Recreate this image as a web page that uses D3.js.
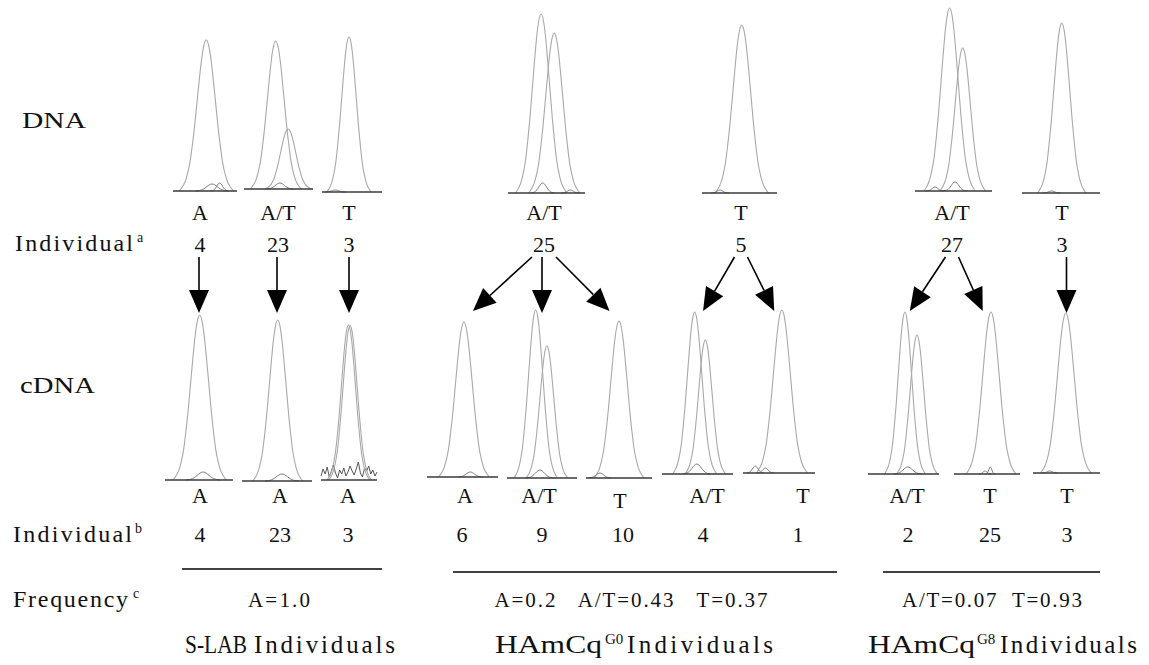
<!DOCTYPE html>
<html lang="en">

<head>
    <meta charset="UTF-8">
    <title>DNA / cDNA genotype traces</title>
    <script src="https://d3js.org/d3.v7.min.js"></script>
    <style>
        body { margin: 0; background: #fff; }
        text { font-family: "Liberation Serif", "Times New Roman", Times, serif; fill: #111; }
        .peak { fill: none; stroke: #a9a9a9; stroke-width: 1.1px; }
        .bump { fill: none; stroke: #7a7a7a; stroke-width: 1px; }
        .noise { fill: none; stroke: #555; stroke-width: 1px; }
        .base { stroke: #3a3a3a; stroke-width: 1.6px; }
        .rule { stroke: #000; stroke-width: 1.4px; }
        .shaft { stroke: #000; stroke-width: 1.6px; }
    </style>
</head>

<body>
    <script>
        // genotype calls and individuals, DNA row (top)
        var dnaGenotypes = ["A", "A/T", "T", "A/T", "T", "A/T", "T"];
        var dnaIndividuals = ["4", "23", "3", "25", "5", "27", "3"];

        // cDNA row (bottom)
        var cdnaGenotypes = ["A", "A", "A", "A", "A/T", "T", "A/T", "T", "A/T", "T", "T"];
        var cdnaIndividuals = ["4", "23", "3", "6", "9", "10", "4", "1", "2", "25", "3"];
        // which DNA trace each cDNA trace comes from
        var cdnaSource = [0, 1, 2, 3, 3, 3, 4, 4, 5, 5, 6];

        var frequencies = ["A=1.0", "A=0.2   A/T=0.43   T=0.37", "A/T=0.07  T=0.93"];

        // peaks per trace: [position (0-100 of window), signal, half width]
        var dnaPeaks = [
            [[52, 1510, 37], [61, 70, 22], [73, 80, 12]],
            [[46, 1480, 32], [64, 600, 29], [52, 60, 17]],
            [[45, 1550, 32], [22, 20, 15]],
            [[43, 1790, 29], [60, 1600, 29], [45, 100, 13], [81, 30, 10]],
            [[53, 1680, 31], [24, 30, 10]],
            [[45, 1830, 29], [62, 1430, 26], [52, 90, 13], [26, 40, 10]],
            [[51, 1700, 27], [38, 20, 10]]
        ];
        var cdnaPeaks = [
            [[51, 1650, 34], [56, 80, 22]],
            [[51, 1610, 31], [57, 70, 21]],
            [[49, 1550, 33], [52, 1545, 33]],
            [[52, 1550, 31], [61, 50, 15]],
            [[41, 1680, 27], [57, 1320, 26], [47, 80, 17]],
            [[50, 1570, 33], [21, 50, 15]],
            [[46, 1620, 27], [61, 1340, 25], [49, 100, 17]],
            [[54, 1630, 31], [17, 70, 10], [31, 50, 10]],
            [[52, 1620, 25], [69, 1390, 25], [56, 70, 17]],
            [[56, 1620, 33], [55, 70, 6], [47, 30, 8]],
            [[49, 1600, 33], [25, 20, 10]]
        ];
        // background noise in S-LAB individual 3 cDNA trace
        var noiseTrace = [40, 110, 60, 130, 30, 90, 150, 70, 20, 100, 60, 120, 40, 80, 140, 90, 50, 110, 180, 70, 30, 120, 90, 140, 60, 100, 40, 80];

        // peak outline: [offset in half widths, relative height]
        var peakProfile = [[0, 1], [0.1, 0.965], [0.2, 0.87], [0.3, 0.73], [0.4, 0.575], [0.5, 0.42],
            [0.6, 0.29], [0.7, 0.18], [0.8, 0.11], [0.9, 0.06], [1, 0.03], [1.15, 0]];

        // ---- layout ----
        // [x0, x1, baseline y, label x]
        var dnaLayout = [[173, 237, 191, 200], [244, 313, 189, 278], [322, 382, 192, 349], [508, 585, 193, 544],
            [702, 777, 193, 741], [915, 992, 191, 952], [1022, 1100, 193, 1062]];
        var cdnaLayout = [[165, 233, 480, 200], [242, 312, 481, 280], [321, 377, 480, 348], [427, 498, 477, 465],
            [507, 577, 478, 539], [586, 652, 478, 620], [662, 733, 474, 707], [743, 815, 473, 803],
            [868, 939, 474, 907], [954, 1020, 474, 990], [1033, 1100, 473, 1067]];
        var cdnaNumberX = [200, 280, 348, 462, 542, 623, 703, 798, 908, 990, 1067];
        // [rule x0, rule x1, rule y, text centre, title x]
        var groupLayout = [[182, 382, 569, 279, 185], [453, 837, 572, 631, 495], [883, 1100, 572, 992, 868]];

        var svg = d3.select("body").append("svg")
            .attr("width", 1149)
            .attr("height", 665);

        var fullProfile = peakProfile.slice(1).map(function (p) { return [-p[0], p[1]]; }).reverse().concat(peakProfile);

        function drawTrace(lay, peaks, noise) {
            var x = d3.scaleLinear().domain([0, 100]).range([lay[0], lay[1]]);
            var y = d3.scaleLinear().domain([0, 2000]).range([lay[2], lay[2] - 200]);
            var g = svg.append("g");

            if (noise) {
                var nx = d3.scaleLinear().domain([0, noise.length - 1]).range([0, 100]);
                g.append("path")
                    .attr("class", "noise")
                    .attr("d", d3.line()
                        .x(function (d, i) { return x(nx(i)); })
                        .y(function (d) { return y(d); })(noise));
            }

            g.selectAll(".pk")
                .data(peaks)
                .enter()
                .append("path")
                .attr("class", function (d) { return d[1] < 300 ? "bump" : "peak"; })
                .attr("d", function (d) {
                    return d3.line()
                        .x(function (p) { return x(d[0] + p[0] * d[2]); })
                        .y(function (p) { return y(p[1] * d[1]); })
                        .curve(d3.curveMonotoneX)(fullProfile);
                });

            g.append("line")
                .attr("class", "base")
                .attr("x1", x(0)).attr("x2", x(100))
                .attr("y1", y(0)).attr("y2", y(0));
        }

        dnaPeaks.forEach(function (p, i) { drawTrace(dnaLayout[i], p, null); });
        cdnaPeaks.forEach(function (p, i) { drawTrace(cdnaLayout[i], p, i === 2 ? noiseTrace : null); });

        // genotype and individual labels
        svg.selectAll(".dnaGt").data(dnaGenotypes).enter().append("text")
            .attr("x", function (d, i) { return dnaLayout[i][3]; })
            .attr("y", 220)
            .attr("text-anchor", "middle")
            .style("font-size", "22px")
            .text(function (d) { return d; });
        svg.selectAll(".dnaInd").data(dnaIndividuals).enter().append("text")
            .attr("x", function (d, i) { return dnaLayout[i][3]; })
            .attr("y", 252)
            .attr("text-anchor", "middle")
            .style("font-size", "22px")
            .text(function (d) { return d; });
        svg.selectAll(".cdnaGt").data(cdnaGenotypes).enter().append("text")
            .attr("x", function (d, i) { return cdnaLayout[i][3]; })
            .attr("y", function (d, i) { return i === 5 ? 508 : 503; })
            .attr("text-anchor", "middle")
            .style("font-size", "22px")
            .text(function (d) { return d; });
        svg.selectAll(".cdnaInd").data(cdnaIndividuals).enter().append("text")
            .attr("x", function (d, i) { return cdnaNumberX[i]; })
            .attr("y", 542)
            .attr("text-anchor", "middle")
            .style("font-size", "22px")
            .text(function (d) { return d; });

        // arrows from DNA individual to the cDNA traces
        function arrow(x1, y1, x2, y2) {
            var dx = x2 - x1, dy = y2 - y1, len = Math.sqrt(dx * dx + dy * dy);
            var ux = dx / len, uy = dy / len;
            var hl = 23, hw = 10;
            var bx = x2 - ux * hl, by = y2 - uy * hl;
            svg.append("line").attr("class", "shaft")
                .attr("x1", x1).attr("y1", y1).attr("x2", bx).attr("y2", by);
            svg.append("path")
                .attr("d", "M" + x2 + "," + y2 + "L" + (bx - uy * hw) + "," + (by + ux * hw)
                    + "L" + (bx + uy * hw) + "," + (by - ux * hw) + "Z")
                .attr("fill", "#000");
        }

        dnaIndividuals.forEach(function (d, s) {
            var targets = cdnaSource.map(function (src, i) { return src === s ? i : -1; })
                .filter(function (i) { return i >= 0; });
            var n = targets.length;
            targets.forEach(function (t, k) {
                var tc = (cdnaLayout[t][0] + cdnaLayout[t][1]) / 2;
                var off = n === 1 ? 0 : (k - (n - 1) / 2) * (n === 3 ? 12 : 13);
                if (off === 0) {
                    arrow(tc, 257, tc, 313);
                } else {
                    var sx = dnaLayout[s][3] + off;
                    arrow(sx, 257, tc + 0.15 * (sx - tc), 311);
                }
            });
        });

        // row labels
        function label(txt, x, y, len, adjust, sup, supX) {
            svg.append("text").attr("x", x).attr("y", y)
                .attr("textLength", len).attr("lengthAdjust", adjust)
                .style("font-size", "24px").text(txt);
            if (sup) {
                svg.append("text").attr("x", supX).attr("y", y - 9)
                    .style("font-size", "14px").text(sup);
            }
        }
        label("DNA", 22, 128, 64, "spacingAndGlyphs");
        label("Individual", 15, 251, 118, "spacing", "a", 137);
        label("cDNA", 20, 393, 75, "spacingAndGlyphs");
        label("Individual", 13, 542, 119, "spacing", "b", 135);
        label("Frequency", 13, 607, 115, "spacing", "c", 133);

        // group rules, frequencies and titles
        svg.selectAll(".rule").data(groupLayout).enter().append("line")
            .attr("class", "rule")
            .attr("x1", function (d) { return d[0]; })
            .attr("x2", function (d) { return d[1]; })
            .attr("y1", function (d) { return d[2]; })
            .attr("y2", function (d) { return d[2]; });

        var freqLen = [62, 273, 180];
        svg.selectAll(".freq").data(frequencies).enter().append("text")
            .attr("x", function (d, i) { return groupLayout[i][3] - freqLen[i] / 2; })
            .attr("y", 607)
            .attr("textLength", function (d, i) { return freqLen[i]; })
            .attr("lengthAdjust", "spacing")
            .style("font-size", "21px")
            .style("white-space", "pre")
            .text(function (d) { return d; });

        // titles: [prefix, superscript, prefix length, sup x offset, word x offset, word length]
        var titles = [["S-LAB", "", 62, 0, 69, 141], ["HAmCq", "G0", 107, 110, 132, 146], ["HAmCq", "G8", 107, 109, 132, 137]];
        titles.forEach(function (t, i) {
            var x0 = groupLayout[i][4];
            svg.append("text").attr("x", x0).attr("y", 653)
                .attr("textLength", t[2]).attr("lengthAdjust", "spacingAndGlyphs")
                .style("font-size", "25px").text(t[0]);
            if (t[1]) {
                svg.append("text").attr("x", x0 + t[3]).attr("y", 644)
                    .style("font-size", "15px").text(t[1]);
            }
            svg.append("text").attr("x", x0 + t[4]).attr("y", 653)
                .attr("textLength", t[5]).attr("lengthAdjust", "spacing")
                .style("font-size", "25px").text("Individuals");
        });
    </script>
</body>
</html>
